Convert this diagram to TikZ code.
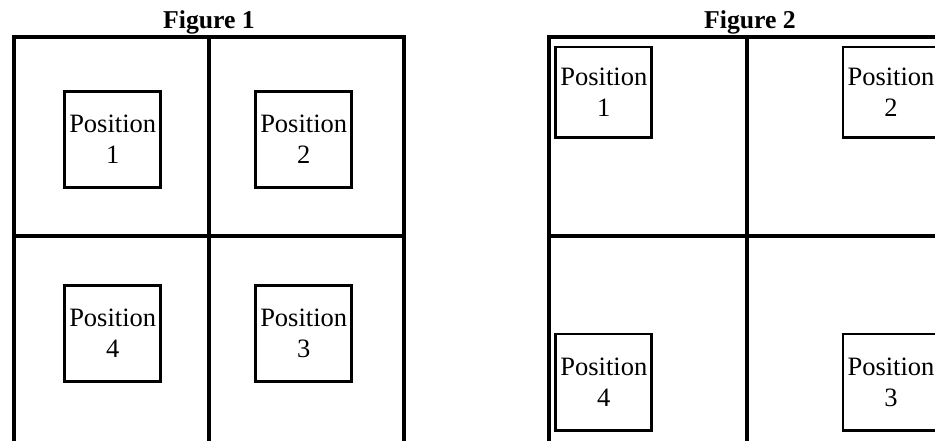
\documentclass[tikz,border=0pt]{standalone}
\usepackage{fontspec}
\setmainfont{Liberation Serif}
\begin{document}
\begin{tikzpicture}[x=1pt,y=-1pt,
  frame/.style={line width=3.8pt},
  posbox/.style={draw,line width=2.7pt,minimum width=96pt,minimum height=96pt,
    inner sep=0pt,align=center,font=\fontsize{26.5}{31}\selectfont},
  figtitle/.style={font=\fontsize{25.7}{30}\selectfont\bfseries,anchor=base,inner sep=0pt}]
\useasboundingbox (0,0) rectangle (935,440);
\clip (0,0) rectangle (935,440);
% Figure 1
\node[figtitle] (t1) at (209,28) {Figure 1};
\draw[frame] (13.7,470) -- (13.7,37) -- (403.7,37) -- (403.7,470);
\draw[frame] (209,37) -- (209,470);
\draw[frame] (13.7,236) -- (403.7,236);
\node[posbox] (a1) at (112.7,139.2) {Position\\1};
\node[posbox] (a2) at (303.7,139.2) {Position\\2};
\node[posbox] (a4) at (112.7,333.5) {Position\\4};
\node[posbox] (a3) at (303.7,333.5) {Position\\3};
% Figure 2
\node[figtitle] (t2) at (750,28) {Figure 2};
\draw[frame] (548.7,470) -- (548.7,37) -- (960,37);
\draw[frame] (747,37) -- (747,470);
\draw[frame] (548.7,236.3) -- (960,236.3);
\node[posbox,minimum height=90.5pt] (b1) at (603.8,92.3) {Position\\1};
\node[posbox,minimum height=90.5pt] (b2) at (891,92.3) {Position\\2};
\node[posbox,minimum height=96.5pt] (b4) at (603.8,382.3) {Position\\4};
\node[posbox,minimum height=96.5pt] (b3) at (891,382.3) {Position\\3};
\end{tikzpicture}
\end{document}
